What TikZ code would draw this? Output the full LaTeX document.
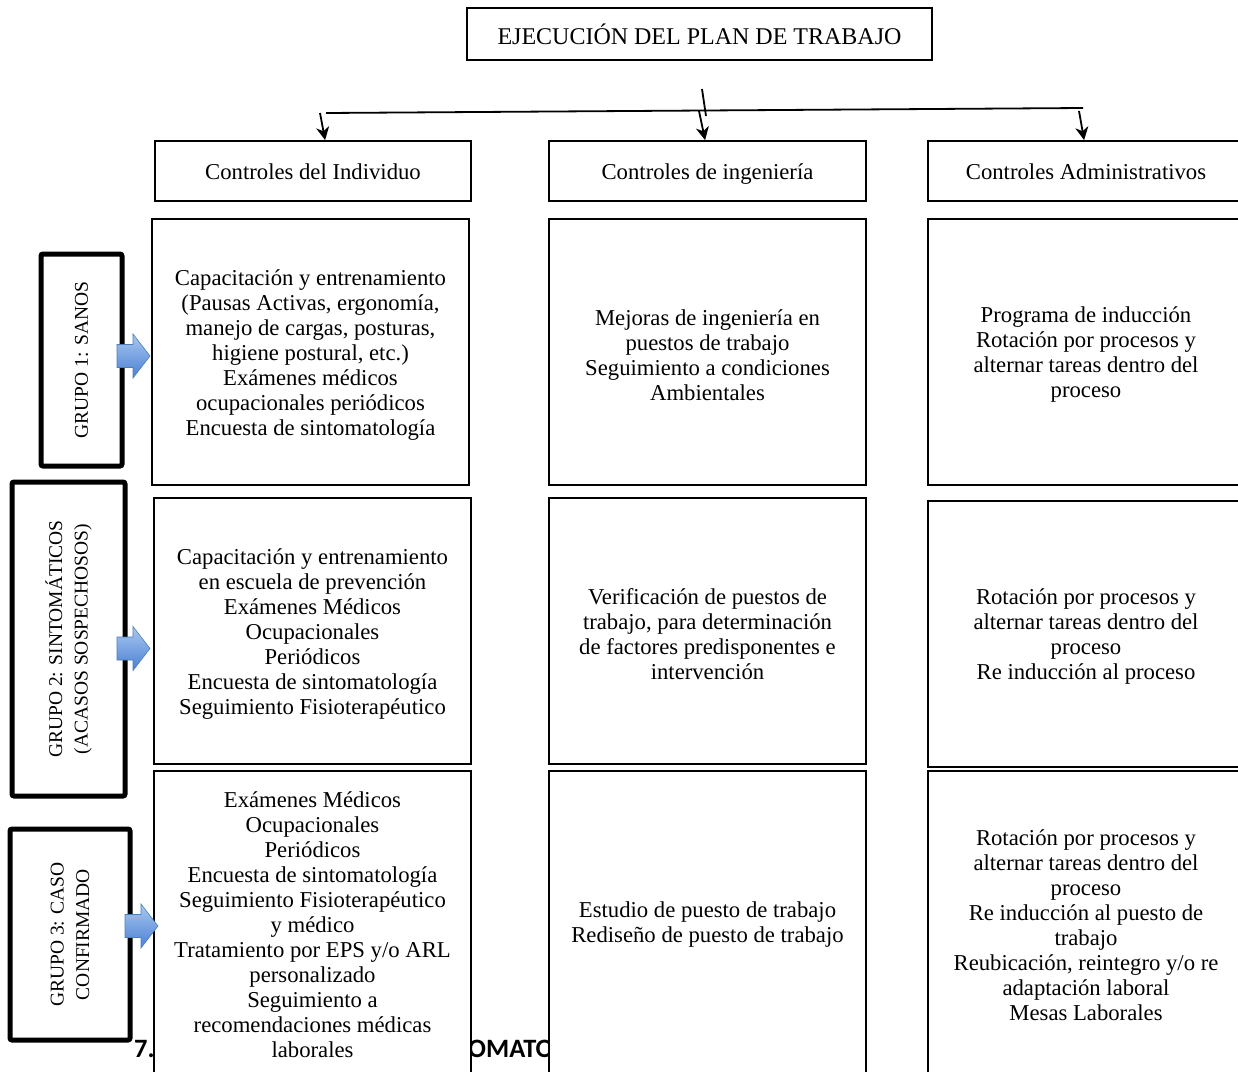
\documentclass[tikz,border=0pt]{standalone}
\usepackage{fontspec}
\setmainfont{Liberation Serif}
\newfontfamily\boldsans{Carlito}
\usetikzlibrary{arrows.meta}
\definecolor{arrtop}{HTML}{A9C8F0}
\definecolor{arrbot}{HTML}{4A80D4}
\definecolor{arredge}{HTML}{4A7EBB}
\newcommand{\blockarrow}[2]{%
  \shade[top color=arrtop, bottom color=arrbot, draw=arredge, line width=0.6pt]
    (#1,#2-11.5) -- (#1+16,#2-11.5) -- (#1+16,#2-22) -- (#1+33,#2) --
    (#1+16,#2+22) -- (#1+16,#2+11.5) -- (#1,#2+11.5) -- cycle;}
% \cbox{name}{cx}{cy}{width}{height}{text}
\newcommand{\cbox}[6]{%
  \node[box, minimum width=#4, minimum height=#5] (#1) at (#2,#3) {};
  \node[txt] (#1t) at ([yshift=-3pt]#1.center) {#6};}
\begin{document}
\begin{tikzpicture}[x=1pt,y=-1pt,
  box/.style={draw, line width=1.8pt, fill=white, inner sep=0pt},
  txt/.style={align=center, inner sep=0pt, font=\fontsize{22.7}{25}\selectfont},
  head/.style={box, align=center, text height=20pt, text depth=4pt,
    font=\fontsize{22.7}{25}\selectfont},
  titlebox/.style={box, align=center, text height=24pt, text depth=4pt,
    font=\fontsize{24}{28}\selectfont},
  grp/.style={draw, line width=5pt, rounded corners=2pt, fill=white, align=center,
    inner sep=0pt, rotate=90, font=\fontsize{19.5}{25.5}\selectfont},
  conn/.style={line width=1.8pt},
  arr/.style={line width=1.8pt, -{Stealth[length=13pt,width=13pt,inset=4pt]}},
  bottomtext/.style={anchor=base west, inner sep=0pt, font=\boldsans\bfseries\fontsize{26.5}{30}\selectfont}
]
\useasboundingbox (0,0) rectangle (1238,1071);
\fill[white] (0,0) rectangle (1238,1071);

% text partly hidden behind the boxes
\node[bottomtext] (seven) at (134,1057.5) {7.};
\node[bottomtext] (omato) at (468,1057.5) {OMATO};

% title
\node[titlebox, minimum width=465, minimum height=52] (title) at (699.5,34) {EJECUCIÓN DEL PLAN DE TRABAJO};

% headers
\node[head, minimum width=316, minimum height=60] (hL) at (313,171) {Controles del Individuo};
\node[head, minimum width=317, minimum height=60] (hM) at (707.5,171) {Controles de ingeniería};
\node[head, minimum width=316, minimum height=60] (hR) at (1086,171) {Controles Administrativos};

% row 1
\cbox{r1L}{310.5}{352}{317}{266}{Capacitación y entrenamiento\\(Pausas Activas, ergonomía,\\manejo de cargas, posturas,\\higiene postural, etc.)\\Exámenes médicos\\ocupacionales periódicos\\Encuesta de sintomatología}
\cbox{r1M}{707.5}{352}{317}{266}{Mejoras de ingeniería en\\puestos de trabajo\\Seguimiento a condiciones\\Ambientales}
\cbox{r1R}{1086}{352}{316}{266}{Programa de inducción\\Rotación por procesos y\\alternar tareas dentro del\\proceso}

% row 2
\cbox{r2L}{312.5}{631}{317}{266}{Capacitación y entrenamiento\\en escuela de prevención\\Exámenes Médicos\\Ocupacionales\\Periódicos\\Encuesta de sintomatología\\Seguimiento Fisioterapéutico}
\cbox{r2M}{707.5}{631}{317}{266}{Verificación de puestos de\\trabajo, para determinación\\de factores predisponentes e\\intervención}
\cbox{r2R}{1086}{634}{316}{266}{Rotación por procesos y\\alternar tareas dentro del\\proceso\\Re inducción al proceso}

% row 3
\cbox{r3L}{312.5}{922}{317}{302}{Exámenes Médicos\\Ocupacionales\\Periódicos\\Encuesta de sintomatología\\Seguimiento Fisioterapéutico\\y médico\\Tratamiento por EPS y/o ARL\\personalizado\\Seguimiento a\\recomendaciones médicas\\laborales}
\cbox{r3M}{707.5}{922}{317}{302}{Estudio de puesto de trabajo\\Rediseño de puesto de trabajo}
\cbox{r3R}{1086}{922}{316}{302}{Rotación por procesos y\\alternar tareas dentro del\\proceso\\Re inducción al puesto de\\trabajo\\Reubicación, reintegro y/o re\\adaptación laboral\\Mesas Laborales}

% group boxes
\node[grp, minimum width=212, minimum height=81] (g1) at (81.5,360) {GRUPO 1: SANOS};
\node[grp, minimum width=314, minimum height=113] (g2) at (68.5,639) {GRUPO 2: SINTOMÁTICOS\\(ACASOS SOSPECHOSOS)};
\node[grp, minimum width=211, minimum height=120] (g3) at (70,934.5) {GRUPO 3: CASO\\CONFIRMADO};

% block arrows
\blockarrow{117}{356}
\blockarrow{117}{648.5}
\blockarrow{125}{926}

% connectors from the title
\coordinate (hl) at (326,113);
\coordinate (hr) at (1083,108);
\coordinate (vtop) at (702,89);
\coordinate (vbot) at (706,116);
\coordinate (sL) at (320,113);
\coordinate (sM) at (699,111);
\coordinate (sR) at (1079,111);
\draw[conn] (hl) -- (hr);
\draw[conn] (vtop) -- (vbot);
\draw[arr] (sL) -- ([xshift=171pt]hL.north west);
\draw[arr] (sM) -- ([xshift=157pt]hM.north west);
\draw[arr] (sR) -- ([xshift=157pt]hR.north west);
\end{tikzpicture}
\end{document}
